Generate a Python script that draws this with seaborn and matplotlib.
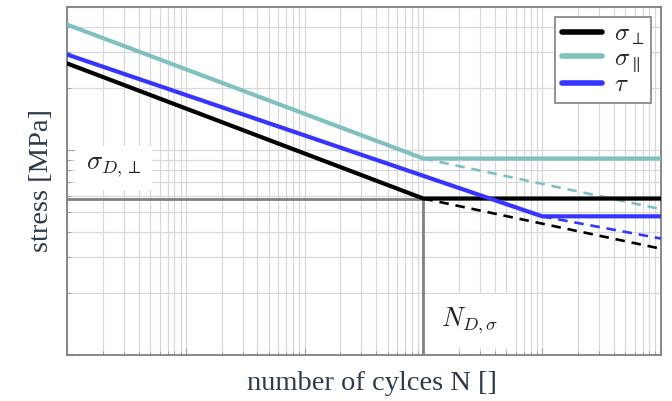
import numpy as np
import pandas as pd
import matplotlib
matplotlib.use("Agg")
import matplotlib.pyplot as plt
import seaborn as sns
from matplotlib.ticker import LogLocator, NullFormatter

sns.set_theme(style="white")
plt.rcParams['font.family'] = ['Liberation Serif', 'DejaVu Serif']
plt.rcParams['mathtext.fontset'] = 'cm'

# ---- data ----
series_names = [r'$\sigma_\perp$', r'$\sigma_\parallel$', r'$\tau$']
series_colors = ['#000000', '#80C0C0', '#3535FF']

# solid S-N curves (cycles, stress)
perp_N = [1e3, 1e6, 1e8]
perp_S = [265, 58, 58]
par_N = [1e3, 1e6, 1e8]
par_S = [410, 91, 91]
tau_N = [1e3, 1e7, 1e8]
tau_S = [293, 47.5, 47.5]

# dashed continuation beyond the knee
perp_dash_N = [1e6, 1e8]
perp_dash_S = [58, 33]
par_dash_N = [1e6, 1e8]
par_dash_S = [91, 51.5]
tau_dash_N = [1e7, 1e8]
tau_dash_S = [47.5, 37]

# reference lines for the endurance limit
ND_sigma = 1e6
SD_perp = 58

xlim = (1e3, 1e8)
ylim = (10, 500)

solid = pd.DataFrame({
    'N': perp_N + par_N + tau_N,
    'S': perp_S + par_S + tau_S,
    'curve': [series_names[0]] * 3 + [series_names[1]] * 3 + [series_names[2]] * 3,
})
dashed = pd.DataFrame({
    'N': perp_dash_N + par_dash_N + tau_dash_N,
    'S': perp_dash_S + par_dash_S + tau_dash_S,
    'curve': [series_names[0]] * 2 + [series_names[1]] * 2 + [series_names[2]] * 2,
})
palette = dict(zip(series_names, series_colors))

fig = plt.figure(figsize=(6.72, 4.01), dpi=100)
ax = fig.add_axes([0.1, 0.115, 0.8835, 0.8675])
ax.set_xscale('log')
ax.set_yscale('log')

ax.grid(True, which='both', color='#d8d8d8', linewidth=0.9, zorder=0)
ax.set_axisbelow(True)

# gray reference lines
ax.plot([xlim[0], ND_sigma], [SD_perp, SD_perp], color='#808080', lw=2.0, zorder=2)
ax.plot([ND_sigma, ND_sigma], [ylim[0], SD_perp], color='#808080', lw=2.0, zorder=2)

sns.lineplot(data=dashed, x='N', y='S', hue='curve', palette=palette,
             hue_order=series_names, lw=1.9, legend=False, ax=ax,
             estimator=None, sort=False, zorder=3)
for l in ax.get_lines()[-3:]:
    l.set_dashes([3.6, 2.6])
sns.lineplot(data=solid, x='N', y='S', hue='curve', palette=palette,
             hue_order=series_names, lw=3.0, ax=ax,
             estimator=None, sort=False, zorder=4)

ax.set_xlim(*xlim)
ax.set_ylim(*ylim)

ax.xaxis.set_major_locator(LogLocator(base=10, numticks=20))
ax.xaxis.set_minor_locator(LogLocator(base=10, subs=np.arange(2, 10), numticks=100))
ax.yaxis.set_major_locator(LogLocator(base=10, numticks=20))
ax.yaxis.set_minor_locator(LogLocator(base=10, subs=np.arange(2, 10), numticks=100))
ax.xaxis.set_major_formatter(NullFormatter())
ax.xaxis.set_minor_formatter(NullFormatter())
ax.yaxis.set_major_formatter(NullFormatter())
ax.yaxis.set_minor_formatter(NullFormatter())
ax.tick_params(which='major', direction='in', length=5, color='#a0a0a0', width=0.8)
ax.tick_params(which='minor', direction='in', length=3, color='#a0a0a0', width=0.7)
ax.tick_params(bottom=True, left=True, which='both')

for s in ax.spines.values():
    s.set_color('#808080')
    s.set_linewidth(1.3)

label_color = '#2f3b4c'
ax.set_xlabel('number of cylces N []', fontsize=20.5, color=label_color)
ax.set_ylabel('stress [MPa]', fontsize=20.5, color=label_color)
ax.xaxis.set_label_coords(0.513, -0.045)
ax.yaxis.set_label_coords(-0.022, 0.5)

ax.text(2.45e3, 82, r'$\sigma_{D,\perp}$', fontsize=19, ha='center', va='center',
        color='#222222', zorder=5,
        bbox=dict(facecolor='white', edgecolor='none', boxstyle='square,pad=0.4'))
ax.text(2.45e6, 14.6, r'$N_{D,\sigma}$', fontsize=19, ha='center', va='center',
        color='#222222', zorder=5,
        bbox=dict(facecolor='white', edgecolor='none', boxstyle='square,pad=0.45'))

leg = ax.legend(loc='upper right', fontsize=18, frameon=True, fancybox=False,
                edgecolor='#808080', framealpha=1, handlelength=1.6,
                borderpad=0.25, labelspacing=0.0, handletextpad=0.5,
                borderaxespad=0.4)
leg.get_frame().set_linewidth(1.2)
for h in leg.get_lines():
    h.set_linewidth(4.0)

fig.savefig('out.png', dpi=100)
